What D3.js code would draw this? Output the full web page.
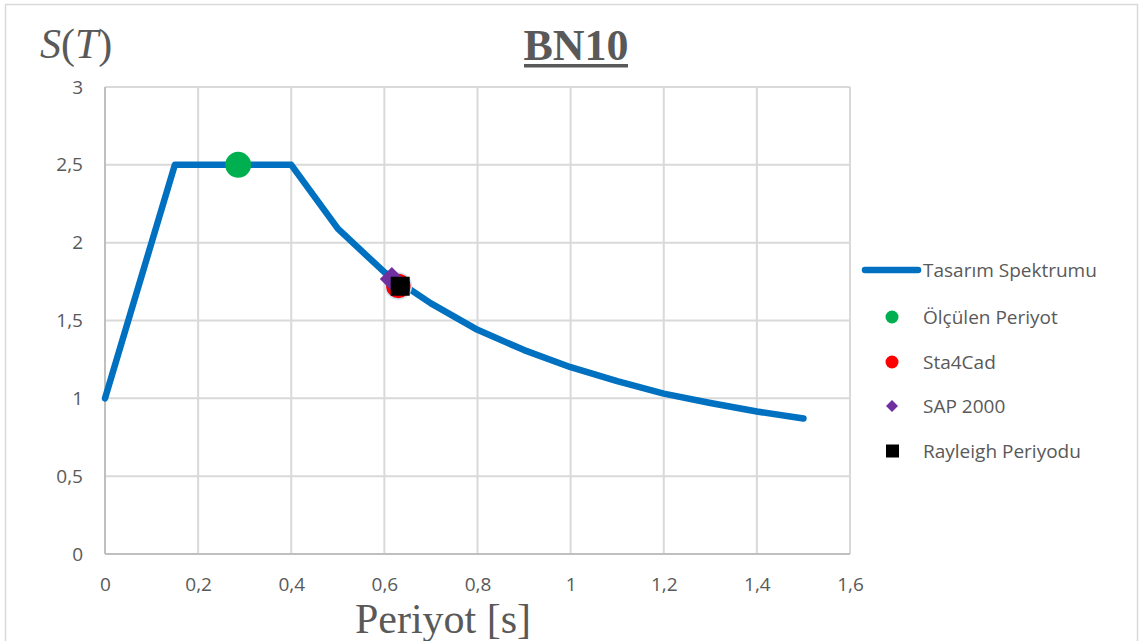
<!DOCTYPE html>
<html><head><meta charset="utf-8">
<script src="https://cdn.jsdelivr.net/npm/d3@7"></script>
<style>body{margin:0;background:#fff}svg{display:block}</style>
</head><body><svg id="c" width="1140" height="641"></svg>
<script>
const periods = [0, 0.15, 0.4, 0.5, 0.6, 0.7, 0.8, 0.9, 1.0, 1.1, 1.2, 1.3, 1.4, 1.5];
const spectrum = [1.0, 2.5, 2.5, 2.09, 1.81, 1.61, 1.44, 1.31, 1.20, 1.11, 1.03, 0.97, 0.915, 0.87];
const seriesNames = ["Tasarım Spektrumu", "Ölçülen Periyot", "Sta4Cad", "SAP 2000", "Rayleigh Periyodu"];
const measuredT = [0.286], measuredS = [2.5];
const sta4cadT = [0.630], sta4cadS = [1.722];
const sapT = [0.616], sapS = [1.767];
const rayleighT = [0.634], rayleighS = [1.72];
const xTicks = [0, 0.2, 0.4, 0.6, 0.8, 1, 1.2, 1.4, 1.6];
const yTicks = [0, 0.5, 1, 1.5, 2, 2.5, 3];

const svg = d3.select("#c");
const x = d3.scaleLinear().domain([0, 1.6]).range([105, 850]);
const y = d3.scaleLinear().domain([0, 3]).range([554, 87]);
const fmt = v => String(v).replace(".", ",");
const txt = "#595959", grid = "#d9d9d9";
const tickFont = "'Open Sans', 'Noto Sans', sans-serif";

svg.append("rect").attr("x", 5.5).attr("y", 4.5).attr("width", 1132).attr("height", 650)
  .attr("fill", "#fff").attr("stroke", grid).attr("stroke-width", 1.5);

// grid
svg.append("g").selectAll("line").data(xTicks).join("line")
  .attr("x1", d => x(d)).attr("x2", d => x(d)).attr("y1", y(0)).attr("y2", y(3))
  .attr("stroke", grid).attr("stroke-width", 2);
svg.append("g").selectAll("line").data(yTicks).join("line")
  .attr("x1", x(0)).attr("x2", x(1.6)).attr("y1", d => y(d)).attr("y2", d => y(d))
  .attr("stroke", grid).attr("stroke-width", 2);
svg.append("line").attr("x1", x(0)).attr("x2", x(0)).attr("y1", y(0)).attr("y2", y(3)).attr("stroke", "#bfbfbf").attr("stroke-width", 2);
svg.append("line").attr("x1", x(0)).attr("x2", x(1.6)).attr("y1", y(0)).attr("y2", y(0)).attr("stroke", "#bfbfbf").attr("stroke-width", 2);

// axes labels via d3 axes
const xAxis = svg.append("g").attr("transform", `translate(0,${y(0)})`)
  .call(d3.axisBottom(x).tickValues(xTicks).tickFormat(fmt).tickSize(0).tickPadding(24));
const yAxis = svg.append("g").attr("transform", `translate(${x(0)},0)`)
  .call(d3.axisLeft(y).tickValues(yTicks).tickFormat(fmt).tickSize(0).tickPadding(22));
[xAxis, yAxis].forEach(a => {
  a.select(".domain").remove();
  a.selectAll("text").attr("fill", txt).style("font-family", tickFont).style("font-size", "19px");
});

// spectrum line
const pts = periods.map((t, i) => [t, spectrum[i]]);
svg.append("path").datum(pts)
  .attr("d", d3.line().x(d => x(d[0])).y(d => y(d[1])))
  .attr("fill", "none").attr("stroke", "#0070C0").attr("stroke-width", 6.5)
  .attr("stroke-linejoin", "round").attr("stroke-linecap", "round");

// markers
svg.append("g").selectAll("circle").data(measuredT).join("circle")
  .attr("cx", d => x(d)).attr("cy", (d, i) => y(measuredS[i])).attr("r", 13).attr("fill", "#00B050");
svg.append("g").selectAll("circle").data(sta4cadT).join("circle")
  .attr("cx", d => x(d)).attr("cy", (d, i) => y(sta4cadS[i])).attr("r", 13).attr("fill", "#FF0000")
  .attr("stroke", "#cfe3f5").attr("stroke-width", 1.5);
svg.append("g").selectAll("path").data(sapT).join("path")
  .attr("transform", (d, i) => `translate(${x(d)},${y(sapS[i])})`)
  .attr("d", "M0,-12L12,0L0,12L-12,0Z").attr("fill", "#7030A0");
svg.append("g").selectAll("rect").data(rayleighT).join("rect")
  .attr("x", d => x(d) - 9.5).attr("y", (d, i) => y(rayleighS[i]) - 9.5)
  .attr("width", 19).attr("height", 19).attr("fill", "#000");

// titles
svg.append("text").attr("x", 576).attr("y", 60).attr("text-anchor", "middle")
  .style("font-family", "'Liberation Serif', 'Times New Roman', serif").style("font-size", "44px")
  .style("font-weight", "bold").attr("fill", txt).text("BN10");
svg.append("rect").attr("x", 524).attr("y", 64).attr("width", 104).attr("height", 3.5).attr("fill", txt);
svg.append("text").attr("x", 40).attr("y", 58)
  .style("font-family", "'Liberation Serif', 'Times New Roman', serif").style("font-size", "42px")
  .style("font-style", "italic").attr("fill", txt)
  .html('S<tspan font-style="normal">(</tspan>T<tspan font-style="normal">)</tspan>');
svg.append("text").attr("x", 443).attr("y", 633).attr("text-anchor", "middle")
  .style("font-family", "'Liberation Serif', 'Times New Roman', serif").style("font-size", "42px")
  .attr("fill", txt).text("Periyot [s]");

// legend
const legY = [270, 317, 362, 406, 451];
const lg = svg.append("g");
lg.append("line").attr("x1", 865).attr("x2", 918).attr("y1", legY[0]).attr("y2", legY[0])
  .attr("stroke", "#0070C0").attr("stroke-width", 6.5).attr("stroke-linecap", "round");
lg.append("circle").attr("cx", 892).attr("cy", legY[1]).attr("r", 6.5).attr("fill", "#00B050");
lg.append("circle").attr("cx", 892).attr("cy", legY[2]).attr("r", 6.5).attr("fill", "#FF0000");
lg.append("path").attr("transform", `translate(892,${legY[3]})`).attr("d", "M0,-6L6,0L0,6L-6,0Z").attr("fill", "#7030A0");
lg.append("rect").attr("x", 886).attr("y", legY[4] - 6.5).attr("width", 13).attr("height", 13).attr("fill", "#000");
lg.selectAll("text").data(seriesNames).join("text")
  .attr("x", 923).attr("y", (d, i) => legY[i]).attr("dy", "0.36em")
  .style("font-family", tickFont).style("font-size", "19px").attr("fill", txt).text(d => d);
</script></body></html>
